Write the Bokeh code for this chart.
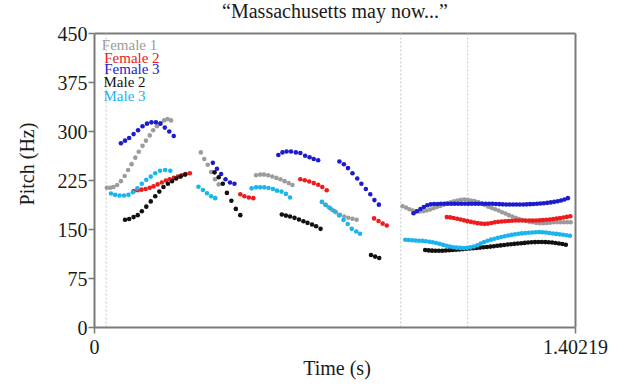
from bokeh.plotting import figure
from bokeh.models import Range1d, FixedTicker, Label, CustomJSTickFormatter
from bokeh.embed import file_html
from bokeh.resources import INLINE

TITLE = "\u201cMassachusetts may now...\u201d"
X_LABEL = "Time (s)"
Y_LABEL = "Pitch (Hz)"
X_MAX = 1.40219
Y_MAX = 450
Y_TICKS = [0, 75, 150, 225, 300, 375, 450]
X_TICKS = [0, X_MAX]
X_TICK_LABELS = ["0", "1.40219"]
BOUNDARIES = [0.034, 0.893, 1.088]
SPEAKERS = ["Female 1", "Female 2", "Female 3", "Male 2", "Male 3"]
COLORS = ["#9c9c9c", "#ee1c1c", "#1c1ccf", "#111111", "#1ab4ee"]

# Female 1
f1_t = [0.036, 0.046, 0.055, 0.066, 0.077, 0.088, 0.098, 0.108, 0.119, 0.129, 0.140, 0.150, 0.161, 0.171, 0.182, 0.193, 0.203, 0.213, 0.223,
        0.310, 0.320, 0.330, 0.340, 0.351, 0.362,
        0.471, 0.483, 0.494, 0.506, 0.518, 0.530, 0.542, 0.554, 0.566, 0.577,
        0.663, 0.673, 0.683, 0.693, 0.704, 0.716, 0.728, 0.740, 0.752, 0.764,
        0.898, 0.908, 0.918, 0.928, 0.938, 0.948, 0.958, 0.968, 0.978, 0.988, 0.998, 1.008, 1.018, 1.028, 1.038, 1.048, 1.058,
        1.068, 1.078, 1.088, 1.098, 1.108, 1.118, 1.128, 1.138, 1.148, 1.158, 1.168, 1.178, 1.188, 1.198, 1.208, 1.218, 1.228,
        1.238, 1.248, 1.258, 1.268, 1.278, 1.288, 1.298, 1.308, 1.318, 1.328, 1.338, 1.348, 1.358, 1.368, 1.378, 1.388]
f1_hz = [214, 214, 215, 218, 224, 232, 241, 250, 260, 269, 278, 286, 294, 302, 308, 313, 317, 319, 317,
         268, 258, 249, 238, 227, 219,
         233, 234, 234, 233, 231, 229, 227, 224, 221, 218,
         192, 188, 184, 180, 176.5, 172.5, 170, 168, 166.5, 165,
         185.5, 183.5, 181, 179, 178, 177.5, 178, 179, 180.5, 182.5, 184.5, 186, 188, 190, 191.5, 193, 194.5,
         195.5, 196, 195.5, 194.5, 193.5, 192, 190, 187.5, 185, 183, 181, 179, 176.5, 174.5, 172, 170, 168,
         166, 164.5, 163, 162, 161, 160, 159.7, 159.7, 160, 160.5, 161, 161, 161.2, 161.2, 161.2, 161.2]

# Female 2
f2_t = [0.114, 0.126, 0.137, 0.149, 0.161, 0.172, 0.184, 0.196, 0.208, 0.219, 0.231, 0.243, 0.254, 0.266, 0.278,
        0.425, 0.437, 0.450, 0.463,
        0.600, 0.613, 0.626, 0.639, 0.652, 0.664, 0.677,
        0.815, 0.828, 0.840, 0.852,
        1.027, 1.037, 1.047, 1.057, 1.067, 1.077, 1.087, 1.097, 1.107, 1.117, 1.127, 1.137, 1.147, 1.157, 1.167, 1.177,
        1.187, 1.197, 1.207, 1.217, 1.227, 1.237, 1.247, 1.257, 1.267, 1.277, 1.287, 1.297, 1.307, 1.317, 1.327, 1.337,
        1.347, 1.357, 1.367, 1.377, 1.387]
f2_hz = [209, 210, 211, 212, 214, 216, 219, 222, 225, 227, 229, 231, 233, 235, 236,
         204, 201, 199, 198,
         227, 225.5, 223.5, 221, 218.5, 215, 210,
         167, 163, 159, 156,
         169, 168.5, 167.5, 166.5, 165.3, 164, 162.8, 161.7, 160.6, 159.7, 159, 158.6, 159, 160, 161, 161.7,
         162.3, 162.7, 163.1, 163.4, 163.7, 163.7, 163.7, 163.7, 163.7, 163.7, 163.8, 164, 164.4, 164.8, 165.3, 165.9,
         166.6, 167.4, 168.3, 169.3, 170.4]

# Female 3
f3_t = [0.077, 0.089, 0.101, 0.114, 0.127, 0.140, 0.153, 0.166, 0.179, 0.192, 0.205, 0.218, 0.231,
        0.345, 0.357, 0.369, 0.382, 0.395, 0.408,
        0.536, 0.548, 0.560, 0.573, 0.587, 0.600, 0.614, 0.627, 0.639, 0.652,
        0.714, 0.727, 0.739, 0.752, 0.766, 0.778, 0.791, 0.804, 0.816, 0.829,
        0.930, 0.940, 0.950, 0.960, 0.970, 0.980, 0.990, 1.000, 1.010, 1.020, 1.030, 1.040, 1.050, 1.060, 1.070, 1.080,
        1.090, 1.100, 1.110, 1.120, 1.130, 1.140, 1.150, 1.160, 1.170, 1.180, 1.190, 1.200, 1.210, 1.220, 1.230, 1.240,
        1.250, 1.260, 1.270, 1.280, 1.290, 1.300, 1.310, 1.320, 1.330, 1.340, 1.350, 1.360, 1.370, 1.380]
f3_hz = [282, 286, 290, 296, 302, 308, 312, 314, 314, 312, 306, 300, 293,
         252, 243, 235, 227, 222, 220,
         264, 268, 269.5, 269.5, 268, 267, 263, 260.5, 258, 256,
         254, 250, 244, 236, 228, 220, 212, 204, 195, 188,
         175, 178, 181.5, 184.5, 187, 188.5, 189, 189, 189.3, 189.3, 189.3, 189.3, 189.3, 189.3, 189.3, 189.3,
         189.3, 189.3, 189.3, 189.3, 189.3, 189.3, 189.3, 189.3, 189, 188.8, 188.5, 188.3, 188.3, 188.3, 188.3, 188.3,
         188.3, 188.5, 188.8, 189, 189.3, 189.7, 190.2, 190.8, 191.5, 192.3, 193.3, 194.5, 196, 198]

# Male 2
m2_t = [0.089, 0.101, 0.114, 0.126, 0.138, 0.151, 0.164, 0.177, 0.189, 0.201, 0.214, 0.226, 0.238, 0.251, 0.264,
        0.350, 0.362, 0.374, 0.386, 0.399, 0.412, 0.425,
        0.546, 0.558, 0.570, 0.583, 0.596, 0.609, 0.621, 0.634, 0.646, 0.659,
        0.806, 0.818, 0.830,
        0.964, 0.974, 0.984, 0.994, 1.004, 1.014, 1.024, 1.034, 1.044, 1.054, 1.064, 1.074, 1.084, 1.094, 1.104, 1.114,
        1.124, 1.134, 1.144, 1.154, 1.164, 1.174, 1.184, 1.194, 1.204, 1.214, 1.224, 1.234, 1.244, 1.254, 1.264, 1.274,
        1.284, 1.294, 1.304, 1.314, 1.324, 1.334, 1.344, 1.354, 1.364, 1.374]
m2_hz = [165, 166, 169, 172, 178, 185, 193, 201, 208, 215, 220, 224, 228, 231, 234,
         237.5, 230, 220, 206, 194, 181.5, 172,
         173, 171.3, 169.8, 167.8, 165.2, 162.7, 160.2, 157.6, 155.1, 151,
         111, 108.5, 106.5,
         118.5, 118, 117.6, 117.4, 117.4, 117.6, 117.9, 118.2, 118.6, 119, 119.5, 120, 120.5, 121, 121.4, 121.8,
         122.3, 122.8, 123.3, 123.8, 124.4, 125, 125.7, 126.4, 127, 127.5, 128, 128.5, 129, 129.5, 130, 130.4,
         130.7, 130.8, 130.8, 130.7, 130.4, 130, 129.4, 128.6, 127.7, 126.6]

# Male 3
m3_t = [0.048, 0.060, 0.073, 0.086, 0.099, 0.112, 0.125, 0.138, 0.151, 0.164, 0.177, 0.191, 0.206, 0.221,
        0.303, 0.316, 0.328, 0.340, 0.352,
        0.458, 0.471, 0.483, 0.495, 0.507, 0.520, 0.532, 0.545, 0.558, 0.570,
        0.663, 0.674, 0.687, 0.700, 0.713, 0.726, 0.738, 0.750, 0.763, 0.774,
        0.906, 0.916, 0.926, 0.936, 0.946, 0.956, 0.966, 0.976, 0.986, 0.996, 1.006, 1.016, 1.026, 1.036, 1.046, 1.056,
        1.066, 1.076, 1.086, 1.096, 1.106, 1.116, 1.126, 1.136, 1.146, 1.156, 1.166, 1.176, 1.186, 1.196, 1.206, 1.216,
        1.226, 1.236, 1.246, 1.256, 1.266, 1.276, 1.286, 1.296, 1.306, 1.316, 1.326, 1.336, 1.346, 1.356, 1.366, 1.376, 1.386]
m3_hz = [205, 203, 202, 202, 203, 207, 213, 220, 226, 231, 236, 240, 241, 240,
         215.5, 210.5, 205.5, 201, 198,
         213, 214.5, 214.5, 214.5, 213.5, 212, 209.5, 208, 204.5, 199,
         192.5, 187.5, 182.5, 178, 171.5, 164.5, 158.5, 151, 147, 143.5,
         134.2, 134, 133.6, 133.2, 132.9, 132.6, 132.1, 131.3, 130.4, 129.3, 128, 126.5, 125.1, 123.9, 122.9, 122.2,
         121.8, 121.6, 121.9, 122.7, 124, 126, 128.4, 130.8, 132.8, 134.5, 135.9, 137.2, 138.4, 139.6, 140.7, 141.7,
         142.6, 143.4, 144, 144.5, 145, 145.4, 145.8, 146, 145.8, 145.3, 144.7, 144, 143.3, 142.6, 141.9, 141.2, 140.5]

SERIES = [(f1_t, f1_hz), (f2_t, f2_hz), (f3_t, f3_hz), (m2_t, m2_hz), (m3_t, m3_hz)]

FONT = "Liberation Serif"
TEXT = "#1a1a1a"
FRAME = "#7a7a7a"

# plotting area: 481 x 294 px for the data box; the canvas frame is extended a little
# upward (room for the title) and rightward (so the right edge line is not clipped)
PX_X = 481.0
PX_Y = 294.0
X_VIEW = X_MAX * (PX_X + 4) / PX_X
Y_VIEW = Y_MAX * (PX_Y + 33) / PX_Y

p = figure(width=608, height=382, output_backend="svg", toolbar_location=None,
           x_range=Range1d(0, X_VIEW), y_range=Range1d(0, Y_VIEW),
           min_border_left=94, min_border_right=29, min_border_top=0, min_border_bottom=55)
p.grid.visible = False
p.background_fill_color = "white"
p.border_fill_color = "white"
p.outline_line_color = None

# axes
ya = p.yaxis[0]
ya.bounds = (0, Y_MAX)
ya.ticker = FixedTicker(ticks=Y_TICKS)
ya.axis_line_color = FRAME
ya.axis_line_width = 2
ya.major_tick_line_color = FRAME
ya.major_tick_line_width = 1.5
ya.major_tick_out = 6
ya.major_tick_in = 0
ya.minor_tick_line_color = None
ya.major_label_standoff = 1
ya.major_label_text_font = FONT
ya.major_label_text_font_size = "20px"
ya.major_label_text_color = TEXT
ya.axis_label = Y_LABEL
ya.axis_label_text_font = FONT
ya.axis_label_text_font_size = "20px"
ya.axis_label_text_font_style = "normal"
ya.axis_label_text_color = TEXT
ya.axis_label_standoff = 17

xa = p.xaxis[0]
xa.bounds = (0, X_MAX)
xa.ticker = FixedTicker(ticks=X_TICKS)
xa.formatter = CustomJSTickFormatter(args=dict(labels=X_TICK_LABELS), code="return labels[index]")
xa.axis_line_color = FRAME
xa.axis_line_width = 2
xa.major_tick_line_color = FRAME
xa.major_tick_line_width = 1.5
xa.major_tick_out = 6
xa.major_tick_in = 0
xa.minor_tick_line_color = None
xa.major_label_standoff = 6
xa.major_label_text_font = FONT
xa.major_label_text_font_size = "20px"
xa.major_label_text_color = TEXT
xa.axis_label = X_LABEL
xa.axis_label_text_font = FONT
xa.axis_label_text_font_size = "20px"
xa.axis_label_text_font_style = "normal"
xa.axis_label_text_color = TEXT
xa.axis_label_standoff = 0

# top and right edges of the box
p.segment(x0=[0, X_MAX], y0=[Y_MAX, 0], x1=[X_MAX, X_MAX], y1=[Y_MAX, Y_MAX],
          line_color=FRAME, line_width=2)

# boundary lines
p.segment(x0=BOUNDARIES, y0=[0] * len(BOUNDARIES), x1=BOUNDARIES, y1=[Y_MAX] * len(BOUNDARIES),
          line_color="#c4c4c4", line_dash="2 2", line_width=1)

# pitch tracks
for (t, hz), c in zip(SERIES, COLORS):
    p.scatter(t, hz, size=4.6, marker="circle", fill_color=c, line_color=None)

# legend (text only)
legend_pos = [(0.0213, 433), (0.0283, 413), (0.0283, 396), (0.0262, 376.5), (0.0262, 355)]
for name, c, (lx, ly) in zip(SPEAKERS, COLORS, legend_pos):
    p.add_layout(Label(x=lx, y=ly, text=name, text_color=c, text_font=FONT,
                       text_font_size="15px", text_align="left", text_baseline="middle"))

# title
p.add_layout(Label(x=X_MAX / 2, y=Y_MAX, y_offset=23, text=TITLE, text_color=TEXT, text_font=FONT,
                   text_font_size="20px", text_align="center", text_baseline="middle"))

open("out.html", "w").write(file_html(p, INLINE))
